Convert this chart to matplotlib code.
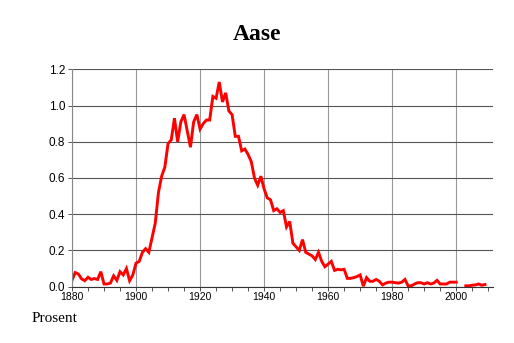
import numpy as np
import matplotlib
matplotlib.use("Agg")
import matplotlib.pyplot as plt
from matplotlib.ticker import MultipleLocator

# Share of population (percent) named Aase, by year
years = list(range(1880, 2010))
values = [
    0.035, 0.078, 0.070, 0.043, 0.033, 0.052, 0.040, 0.045, 0.040, 0.083,  # 1880-1889
    0.015, 0.015, 0.020, 0.060, 0.035, 0.083, 0.065, 0.100, 0.033, 0.065,  # 1890-1899
    0.130, 0.140, 0.190, 0.210, 0.190, 0.270, 0.350, 0.520, 0.610, 0.660,  # 1900-1909
    0.790, 0.810, 0.930, 0.800, 0.910, 0.950, 0.860, 0.770, 0.910, 0.950,  # 1910-1919
    0.870, 0.900, 0.920, 0.920, 1.050, 1.040, 1.130, 1.020, 1.070, 0.970,  # 1920-1929
    0.950, 0.830, 0.830, 0.750, 0.760, 0.730, 0.690, 0.600, 0.560, 0.610,  # 1930-1939
    0.540, 0.490, 0.480, 0.420, 0.430, 0.410, 0.420, 0.330, 0.360, 0.240,  # 1940-1949
    0.220, 0.200, 0.260, 0.190, 0.180, 0.170, 0.150, 0.190, 0.140, 0.110,  # 1950-1959
    0.125, 0.140, 0.090, 0.096, 0.093, 0.096, 0.046, 0.046, 0.050, 0.056,  # 1960-1969
    0.065, 0.003, 0.050, 0.030, 0.030, 0.040, 0.030, 0.010, 0.020, 0.025,  # 1970-1979
    0.025, 0.022, 0.020, 0.025, 0.040, 0.004, 0.005, 0.015, 0.022, 0.022,  # 1980-1989
    0.015, 0.022, 0.015, 0.020, 0.035, 0.015, 0.015, 0.015, 0.025, 0.025,  # 1990-1999
    0.025, np.nan, np.nan, 0.005, 0.005, 0.008, 0.010, 0.015, 0.008, 0.012,  # 2000-2009
]

title = "Aase"
ylabel = "Prosent"

fig = plt.figure(figsize=(5.14, 3.43), dpi=100)
ax = fig.add_axes([72 / 514, 56.3 / 343, 421 / 514, 217.4 / 343])

ax.plot(years, values, color="#ff0000", lw=2.1, solid_joinstyle="miter")

ax.set_xlim(1880, 2011.5)
ax.set_ylim(0, 1.2)
ax.xaxis.set_major_locator(MultipleLocator(20))
ax.xaxis.set_minor_locator(MultipleLocator(5))
ax.yaxis.set_major_locator(MultipleLocator(0.2))
ax.yaxis.set_major_formatter(matplotlib.ticker.FormatStrFormatter("%.1f"))

ax.grid(axis="y", color="#555555", lw=0.8)
ax.grid(axis="x", which="major", color="#999999", lw=0.8)
ax.set_axisbelow(True)

for s in ["top", "right"]:
    ax.spines[s].set_visible(False)
ax.spines["left"].set_color("#888888")
ax.spines["bottom"].set_color("#333333")

ax.tick_params(axis="x", which="both", length=3, width=0.7, color="#555555",
               labelsize=7.5, pad=1)
ax.tick_params(axis="y", length=3, width=0.7, color="#555555", labelsize=8.5, pad=2)
for lbl in ax.get_xticklabels() + ax.get_yticklabels():
    lbl.set_family("Liberation Sans")

fig.text(0.5, 0.90, title, ha="center", va="center", fontsize=17,
         fontweight="bold", family="Liberation Serif")
fig.text(32 / 514, 1 - 318 / 343, ylabel, ha="left", va="center", fontsize=11,
         family="Liberation Serif")

fig.savefig("out.png", dpi=100)
